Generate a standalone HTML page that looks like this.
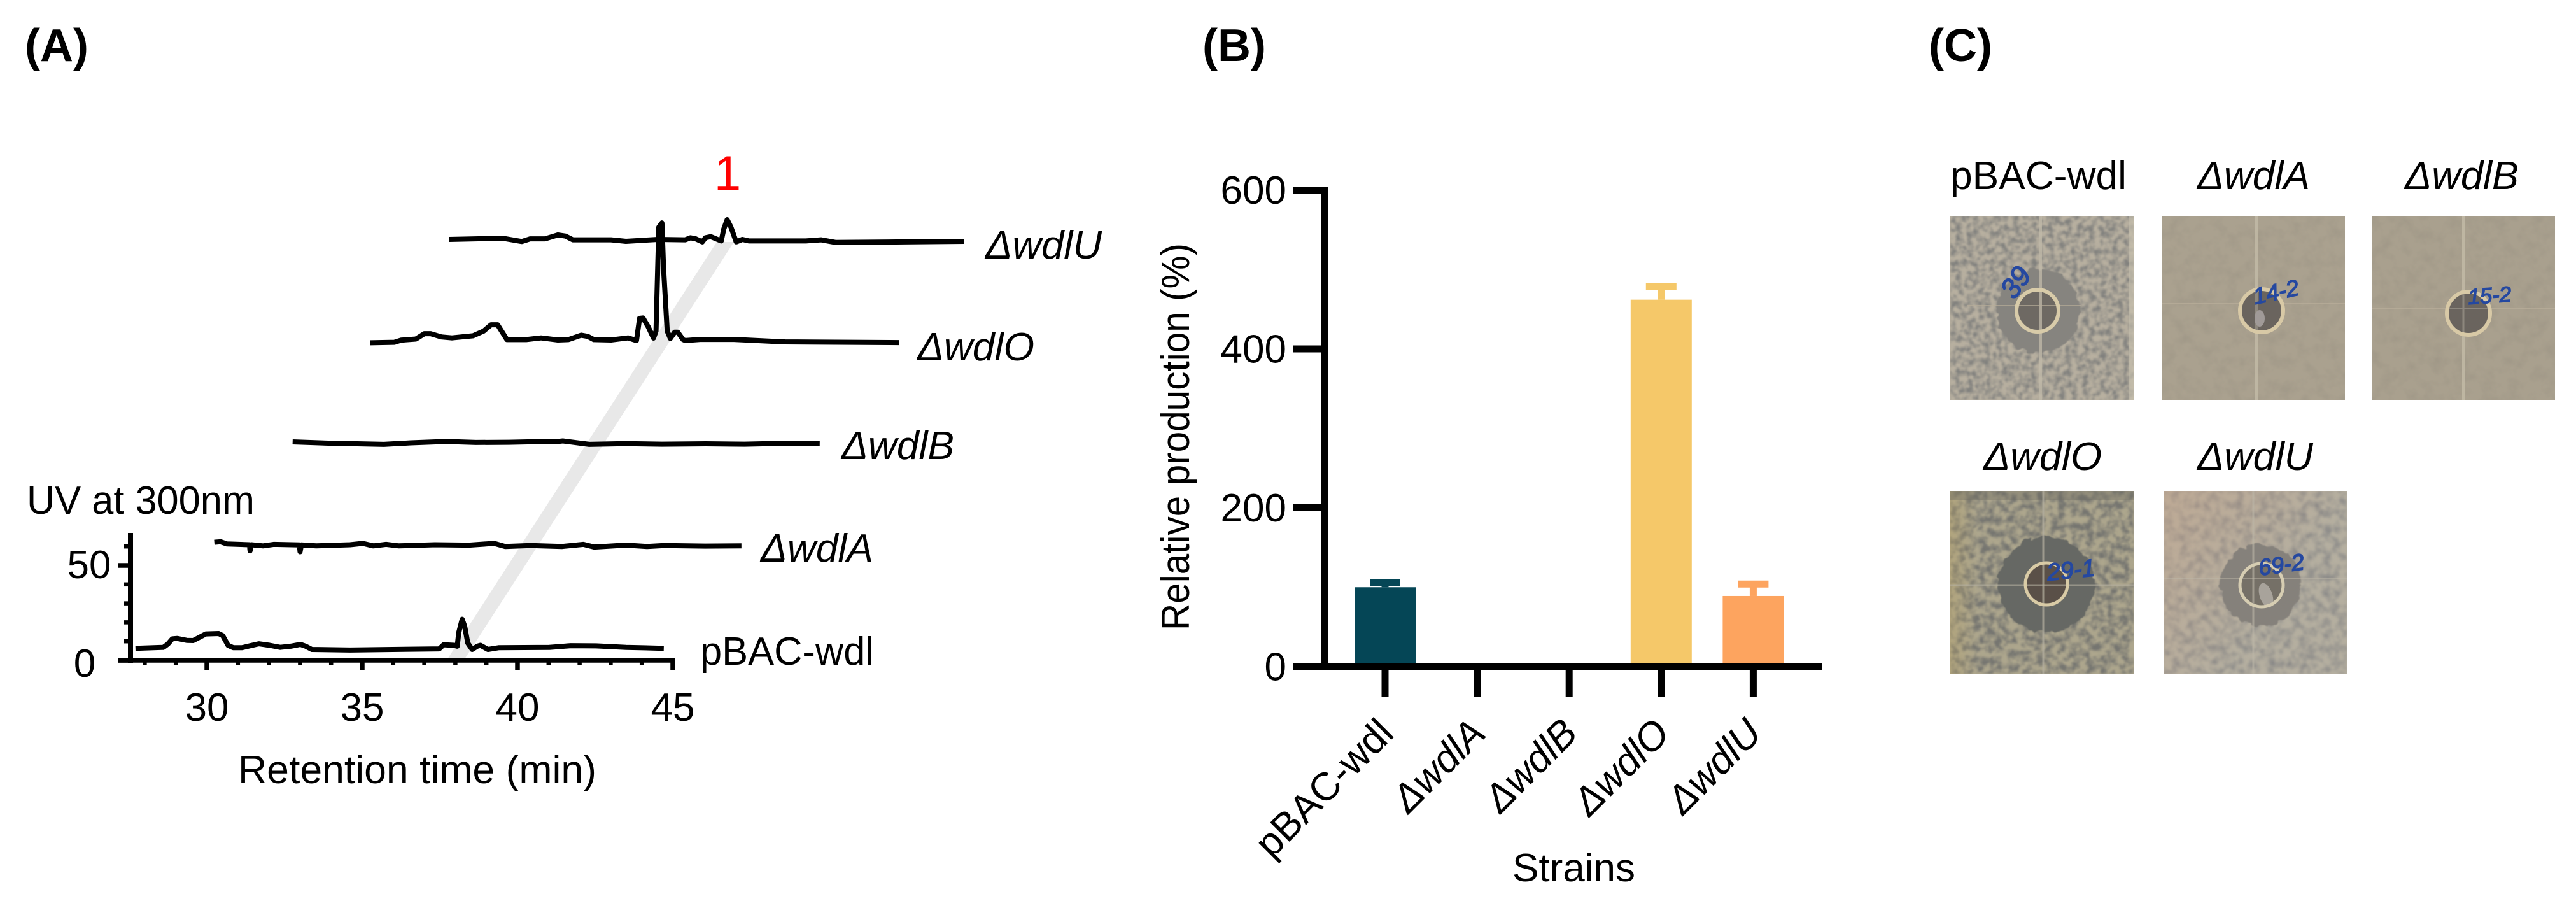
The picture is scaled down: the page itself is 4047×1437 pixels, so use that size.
<!DOCTYPE html>
<html>
<head>
<meta charset="utf-8">
<title>wdl strain analysis</title>
<style>
html,body{margin:0;padding:0;background:#fff;}
svg{display:block;}
text{font-family:"Liberation Sans",sans-serif;fill:#000;font-size:62px;}
.it{font-style:italic;}
.panel{font-weight:bold;font-size:72px;}
.hand{font-style:italic;fill:#2548a0;stroke:#2548a0;stroke-width:1.5px;}
</style>
</head>
<body>
<svg id="figure" xmlns="http://www.w3.org/2000/svg" width="4047" height="1437" viewBox="0 0 4047 1437">
<defs>
  <filter id="speckleA" x="0" y="0" width="1" height="1" color-interpolation-filters="sRGB">
    <feTurbulence type="fractalNoise" baseFrequency="0.11" numOctaves="3" seed="4"/>
    <feColorMatrix values="0 0 0 0 .5 0 0 0 0 .5 0 0 0 0 .49 2.6 0 0 0 -0.95"/>
    <feGaussianBlur stdDeviation="1.2"/>
  </filter>
  <filter id="speckleB" x="0" y="0" width="1" height="1" color-interpolation-filters="sRGB">
    <feTurbulence type="fractalNoise" baseFrequency="0.09" numOctaves="3" seed="11"/>
    <feColorMatrix values="0 0 0 0 .46 0 0 0 0 .46 0 0 0 0 .44 2.8 0 0 0 -1.0"/>
    <feGaussianBlur stdDeviation="1.2"/>
  </filter>
  <filter id="speckleC" x="0" y="0" width="1" height="1" color-interpolation-filters="sRGB">
    <feTurbulence type="fractalNoise" baseFrequency="0.08" numOctaves="3" seed="21"/>
    <feColorMatrix values="0 0 0 0 .52 0 0 0 0 .52 0 0 0 0 .52 2 0 0 0 -0.75"/>
    <feGaussianBlur stdDeviation="1.6"/>
  </filter>
  <filter id="fine" x="0" y="0" width="1" height="1" color-interpolation-filters="sRGB">
    <feTurbulence type="fractalNoise" baseFrequency="0.05" numOctaves="3" seed="7"/>
    <feColorMatrix values="0 0 0 0 .5 0 0 0 0 .48 0 0 0 0 .44 1.2 0 0 0 -0.5"/>
  </filter>
  <filter id="rough" x="-25%" y="-25%" width="150%" height="150%" color-interpolation-filters="sRGB">
    <feTurbulence type="fractalNoise" baseFrequency="0.08" numOctaves="2" seed="8" result="n"/>
    <feDisplacementMap in="SourceGraphic" in2="n" scale="13" xChannelSelector="R" yChannelSelector="G"/>
    <feGaussianBlur stdDeviation="0.8"/>
  </filter>
  <linearGradient id="pinkTop" x1="0" y1="0" x2="0.7" y2="0.5">
    <stop offset="0" stop-color="#c9a488" stop-opacity=".45"/>
    <stop offset="1" stop-color="#c9a488" stop-opacity="0"/>
  </linearGradient>
  <linearGradient id="yellowLeft" x1="0" y1="0" x2="1" y2="0">
    <stop offset="0" stop-color="#b9a468" stop-opacity=".4"/>
    <stop offset="0.15" stop-color="#b9a468" stop-opacity="0"/>
  </linearGradient>
</defs>

<text class="panel" x="39" y="96">(A)</text>
<text class="panel" x="1889" y="96">(B)</text>
<text class="panel" x="3030" y="96">(C)</text>

<polygon points="703,1035 730,1035 1153,380 1126,380" fill="#e8e8e8"/>
<g id="panelA"></g>

<text x="1143" y="298" text-anchor="middle" style="fill:#ff0000;font-size:76px">1</text>
<text x="42" y="807" textLength="358" lengthAdjust="spacingAndGlyphs">UV at 300nm</text>
<text x="374" y="1230" textLength="563" lengthAdjust="spacingAndGlyphs">Retention time (min)</text>
<text class="it" x="1548" y="406" textLength="183" lengthAdjust="spacingAndGlyphs">ΔwdlU</text>
<text class="it" x="1441" y="566" textLength="184" lengthAdjust="spacingAndGlyphs">ΔwdlO</text>
<text class="it" x="1322" y="721" textLength="177" lengthAdjust="spacingAndGlyphs">ΔwdlB</text>
<text class="it" x="1195" y="882" textLength="177" lengthAdjust="spacingAndGlyphs">ΔwdlA</text>
<text x="1100" y="1044" textLength="273" lengthAdjust="spacingAndGlyphs">pBAC-wdl</text>

<g id="panelB"></g>
<text transform="translate(1868,990) rotate(-90)" textLength="608" lengthAdjust="spacingAndGlyphs">Relative production (%)</text>
<text x="2376" y="1384">Strains</text>

<!-- Panel C -->
<text x="3064" y="297" textLength="277" lengthAdjust="spacingAndGlyphs">pBAC-wdl</text>
<text class="it" x="3452" y="297" textLength="177" lengthAdjust="spacingAndGlyphs">ΔwdlA</text>
<text class="it" x="3778" y="297" textLength="179" lengthAdjust="spacingAndGlyphs">ΔwdlB</text>
<text class="it" x="3116" y="738" textLength="186" lengthAdjust="spacingAndGlyphs">ΔwdlO</text>
<text class="it" x="3452" y="738" textLength="182" lengthAdjust="spacingAndGlyphs">ΔwdlU</text>

<g>
  <rect x="3064" y="339" width="288" height="289" fill="#b8b0a0"/>
  <rect x="3064" y="339" width="288" height="289" filter="url(#speckleA)"/>
  <circle cx="3202" cy="488" r="66" fill="#86847f" filter="url(#rough)"/>
  <circle cx="3201" cy="488" r="32" fill="#6e6963"/>
  <line x1="3206" y1="339" x2="3206" y2="628" stroke="#c2bbaa" stroke-width="4" opacity=".75"/>
  <line x1="3090" y1="480" x2="3270" y2="480" stroke="#b8ae9a" stroke-width="2" opacity=".7"/>
  <circle cx="3201" cy="488" r="33" fill="none" stroke="#d8cba9" stroke-width="6"/>
  <rect x="3345" y="339" width="7" height="289" fill="#c9c3b0" opacity=".6"/>
  <text class="hand" transform="translate(3165,472) rotate(-55)" style="font-size:44px">39</text>
</g>
<g>
  <rect x="3397" y="339" width="287" height="289" fill="#aaa18f"/>
  <rect x="3397" y="339" width="287" height="289" filter="url(#fine)" opacity=".35"/>
  <line x1="3545" y1="339" x2="3545" y2="628" stroke="#c4bca8" stroke-width="4" opacity=".8"/>
  <line x1="3397" y1="477" x2="3684" y2="477" stroke="#baaf9b" stroke-width="2" opacity=".7"/>
  <circle cx="3553" cy="488" r="33" fill="#6a645e"/>
  <line x1="3545" y1="458" x2="3545" y2="520" stroke="#8d877d" stroke-width="4"/>
  <circle cx="3553" cy="488" r="34" fill="none" stroke="#d8c9a6" stroke-width="6"/>
  <ellipse cx="3550" cy="500" rx="8" ry="13" fill="#a09a98"/>
  <text class="hand" transform="translate(3543,478) rotate(-12)" style="font-size:36px">14-2</text>
</g>
<g>
  <rect x="3727" y="339" width="287" height="289" fill="#a9a08e"/>
  <rect x="3727" y="339" width="287" height="289" filter="url(#fine)" opacity=".35"/>
  <line x1="3870" y1="339" x2="3870" y2="628" stroke="#c4bca8" stroke-width="4" opacity=".8"/>
  <line x1="3727" y1="485" x2="4014" y2="485" stroke="#baaf9b" stroke-width="2" opacity=".7"/>
  <circle cx="3878" cy="492" r="32" fill="#6a645e"/>
  <line x1="3870" y1="462" x2="3870" y2="524" stroke="#8d877d" stroke-width="3"/>
  <line x1="3848" y1="485" x2="3908" y2="485" stroke="#8d877d" stroke-width="2"/>
  <circle cx="3878" cy="492" r="34" fill="none" stroke="#d8c9a6" stroke-width="6"/>
  <text class="hand" transform="translate(3878,478) rotate(-4)" style="font-size:34px">15-2</text>
</g>
<g>
  <rect x="3064" y="771" width="288" height="287" fill="#ada68d"/>
  <rect x="3064" y="771" width="288" height="287" filter="url(#speckleB)"/>
  <rect x="3064" y="771" width="288" height="287" fill="url(#yellowLeft)"/>
  <rect x="3064" y="771" width="288" height="14" fill="#6f6c62" opacity=".4"/>
  <circle cx="3215" cy="918" r="76" fill="#666864" filter="url(#rough)"/>
  <circle cx="3215" cy="917" r="31" fill="#5a5048"/>
  <line x1="3210" y1="771" x2="3210" y2="1058" stroke="#b5b0a0" stroke-width="3" opacity=".7"/>
  <line x1="3064" y1="919" x2="3352" y2="919" stroke="#b5b0a0" stroke-width="3" opacity=".6"/>
  <circle cx="3215" cy="917" r="33" fill="none" stroke="#d9cba6" stroke-width="5"/>
  <text class="hand" transform="translate(3217,912) rotate(-6)" style="font-size:38px">29-1</text>
</g>
<g>
  <rect x="3399" y="771" width="288" height="287" fill="#b5afa0"/>
  <rect x="3399" y="771" width="288" height="287" filter="url(#speckleC)"/>
  <rect x="3399" y="771" width="288" height="287" fill="url(#pinkTop)"/>
  <circle cx="3551" cy="919" r="64" fill="#85817b" filter="url(#rough)"/>
  <circle cx="3553" cy="919" r="32" fill="#757067"/>
  <line x1="3540" y1="771" x2="3540" y2="1058" stroke="#bdb7a8" stroke-width="3" opacity=".6"/>
  <line x1="3399" y1="908" x2="3687" y2="908" stroke="#bdb7a8" stroke-width="2" opacity=".5"/>
  <ellipse cx="3560" cy="935" rx="10" ry="20" fill="#a8a39b" transform="rotate(-18 3560 935)"/>
  <circle cx="3553" cy="919" r="34" fill="none" stroke="#d6cdb2" stroke-width="5"/>
  <text class="hand" transform="translate(3550,904) rotate(-8)" style="font-size:36px">69-2</text>
</g>
</svg>

<script>
// ---- Panel A data: retention time (min) and UV signal per trace ----
const pbacTimes = [27.70,28.60,28.74,28.89,29.04,29.35,29.56,29.76,29.97,30.38,30.51,30.68,30.85,31.13,31.40,31.67,32.02,32.36,32.70,33.01,33.18,33.38,34.61,37.48,37.62,37.96,38.06,38.11,38.22,38.30,38.40,38.54,38.71,38.81,39.05,39.39,41.03,41.71,42.53,43.49,44.71];
const pbacSignal = [6.3,6.8,8.5,11.3,11.5,10.5,10.4,12.1,13.9,14.1,13.0,7.9,6.6,6.6,7.7,8.7,7.9,6.8,7.4,8.4,7.4,5.7,5.4,6.0,8.2,7.9,7.4,14.7,21.6,18.0,9.1,5.7,7.4,7.9,5.7,6.6,6.8,7.7,7.6,6.8,6.3];
const wdlATimes = [27.70,27.90,28.11,28.83,28.85,28.89,29.27,29.61,30.44,30.46,30.50,30.98,32.07,32.48,32.82,33.23,33.64,34.80,35.90,36.71,37.06,37.88,38.90,39.58,39.93,40.95,41.63,42.18,43.50,44.67];
const wdlASignal = [7.2,7.5,6.3,5.9,2.7,5.9,5.3,6.1,5.8,2.2,5.8,5.3,5.9,6.6,5.3,6.1,5.3,5.9,5.7,6.6,5.0,5.5,5.0,6.1,4.7,5.7,5.0,5.5,5.2,5.3];
const wdlBTimes = [27.70,28.93,30.64,31.50,32.64,33.60,34.67,35.50,36.11,36.40,37.25,38.40,39.59,41.00,42.25,43.40,44.67];
const wdlBSignal = [7.1,6.4,5.8,6.6,7.3,6.8,6.9,7.2,7.1,7.6,5.8,6.2,5.9,6.1,5.9,6.3,6.1];
const wdlOTimes = [27.70,28.48,28.69,29.17,29.44,29.64,29.99,30.33,31.01,31.35,31.59,31.80,32.10,32.72,33.20,33.74,34.08,34.49,34.70,34.90,35.45,36.00,36.27,36.37,36.48,36.65,36.82,36.90,36.99,37.09,37.14,37.26,37.36,37.50,37.60,37.77,37.84,38.32,39.41,41.05,44.73];
const wdlOSignal = [6.3,6.6,7.7,8.3,11.1,11.1,9.4,8.9,10.0,12.5,15.8,15.8,8.0,8.0,8.9,7.8,8.0,10.3,9.7,8.0,7.8,8.9,7.5,19.2,19.4,14.7,8.8,12.5,67.3,69.5,46.0,12.5,8.6,11.9,11.9,8.0,7.5,8.1,8.1,6.8,6.4];
const wdlUTimes = [27.70,29.43,30.04,30.31,30.79,31.20,31.44,31.68,32.91,33.39,34.41,35.30,35.47,35.64,35.85,35.95,36.12,36.46,36.54,36.65,36.77,36.94,37.14,37.35,39.19,39.67,40.15,42.33,44.28];
const wdlUSignal = [6.8,7.4,5.7,7.1,7.1,9.2,8.6,6.6,6.6,5.8,6.8,6.6,7.7,7.1,5.5,7.7,8.3,6.0,12.2,17.2,13.3,5.5,6.8,6.0,6.0,6.6,5.2,5.5,5.8];
const traceNames = ['pbac-wdl','wdla','wdlb','wdlo','wdlu'];
const traceTimes = [pbacTimes,wdlATimes,wdlBTimes,wdlOTimes,wdlUTimes];
const traceSignals = [pbacSignal,wdlASignal,wdlBSignal,wdlOSignal,wdlUSignal];
const traceTimeShifts = [0,2.54,5.06,7.56,10.1];
const traceSignalShifts = [0,55,108,161,215];
const uvMajorTicks = [0,50];
const uvMinorTicks = [10,20,30,40,60];
const timeMajorTicks = [30,35,40,45];
const timeMinorTicks = [28,29,31,32,33,34,36,37,38,39,41,42,43,44];

// ---- Panel B data ----
const strains = ['pBAC-wdl','ΔwdlA','ΔwdlB','ΔwdlO','ΔwdlU'];
const productionValues = [100,0,0,462,89];
const productionErrors = [6,0,0,17,15];
const productionTicks = [0,200,400,600];
const barColors = ['#054656','#054656','#054656','#f5c869','#fda45f'];

const NS = 'http://www.w3.org/2000/svg';
function make(parent, tag, attrs, txt) {
  const el = document.createElementNS(NS, tag);
  for (const k in attrs) el.setAttribute(k, attrs[k]);
  if (txt !== undefined) el.textContent = txt;
  parent.appendChild(el);
  return el;
}

// ---- Panel A axes ----
const xTime = t => 325 + (t - 30) * 48.8;
const yUv = v => 1037 - v * 2.98;
const panelA = document.getElementById('panelA');

traceNames.forEach((name, i) => {
  const pts = traceTimes[i].map((t, j) =>
    xTime(t + traceTimeShifts[i]).toFixed(1) + ',' + yUv(traceSignals[i][j] + traceSignalShifts[i]).toFixed(1)).join(' ');
  const trace = make(panelA, 'polyline', {points: pts, fill: 'none', stroke: '#000', 'stroke-width': 8, 'stroke-linejoin': 'round'});
  
  
});

const uvAxis = make(panelA, 'line', {x1: 205, y1: 837, x2: 205, y2: 1041, stroke: '#000', 'stroke-width': 8});



const timeAxis = make(panelA, 'line', {x1: 185, y1: yUv(0), x2: xTime(45) + 4, y2: yUv(0), stroke: '#000', 'stroke-width': 7.5});



uvMajorTicks.forEach(v => {
  const tick = make(panelA, 'line', {x1: 185, y1: yUv(v), x2: 205, y2: yUv(v), stroke: '#000', 'stroke-width': 7.5});
  
  
  const label = make(panelA, 'text', {x: v === 0 ? 133 : 140, y: yUv(v) + (v === 0 ? 26 : 20), 'text-anchor': 'middle'}, String(v));
  
  
});
uvMinorTicks.forEach(v => {
  const tick = make(panelA, 'line', {x1: 195, y1: yUv(v), x2: 205, y2: yUv(v), stroke: '#000', 'stroke-width': 6.5});
  
  
});
timeMajorTicks.forEach(t => {
  const tick = make(panelA, 'line', {x1: xTime(t), y1: 1037, x2: xTime(t), y2: 1053, stroke: '#000', 'stroke-width': 7.5});
  
  
  const label = make(panelA, 'text', {x: xTime(t), y: 1132, 'text-anchor': 'middle'}, String(t));
  
  
});
timeMinorTicks.forEach(t => {
  const tick = make(panelA, 'line', {x1: xTime(t), y1: 1037, x2: xTime(t), y2: 1045, stroke: '#000', 'stroke-width': 6.5});
  
  
});

// ---- Panel B ----
const panelB = document.getElementById('panelB');
const xStrain = i => 2176 + i * 144.6;
const yProd = v => 1047 - v * 1.2475;

strains.forEach((s, i) => {
  const v = productionValues[i];
  const e = productionErrors[i];
  if (e > 0) {
    const stem = make(panelB, 'line', {x1: xStrain(i), y1: yProd(v), x2: xStrain(i), y2: yProd(v + e), stroke: barColors[i], 'stroke-width': 11});
    
    
    const cap = make(panelB, 'line', {x1: xStrain(i) - 24, y1: yProd(v + e), x2: xStrain(i) + 24, y2: yProd(v + e), stroke: barColors[i], 'stroke-width': 11});
    
    
  }
  const bar = make(panelB, 'rect', {x: xStrain(i) - 48, y: yProd(v), width: 96, height: yProd(0) - yProd(v), fill: barColors[i]});
  
  
  const tick = make(panelB, 'line', {x1: xStrain(i), y1: 1047, x2: xStrain(i), y2: 1095, stroke: '#000', 'stroke-width': 11});
  
  
  const ax = xStrain(i) + 16.5;
  const label = make(panelB, 'text', {transform: 'translate(' + ax + ',1155) rotate(-45)', 'text-anchor': 'end', class: i === 0 ? '' : 'it'}, s);
  
  
});

const prodYAxis = make(panelB, 'line', {x1: 2081.5, y1: yProd(600) - 5.5, x2: 2081.5, y2: 1052, stroke: '#000', 'stroke-width': 11});


const strainAxis = make(panelB, 'line', {x1: 2032, y1: yProd(0), x2: 2862, y2: yProd(0), stroke: '#000', 'stroke-width': 11});



productionTicks.forEach(v => {
  const tick = make(panelB, 'line', {x1: 2032, y1: yProd(v), x2: 2081, y2: yProd(v), stroke: '#000', 'stroke-width': 11});
  
  
  const label = make(panelB, 'text', {x: 2021, y: yProd(v) + 21.5, 'text-anchor': 'end'}, String(v));
  
  
});
</script>
</body>
</html>
